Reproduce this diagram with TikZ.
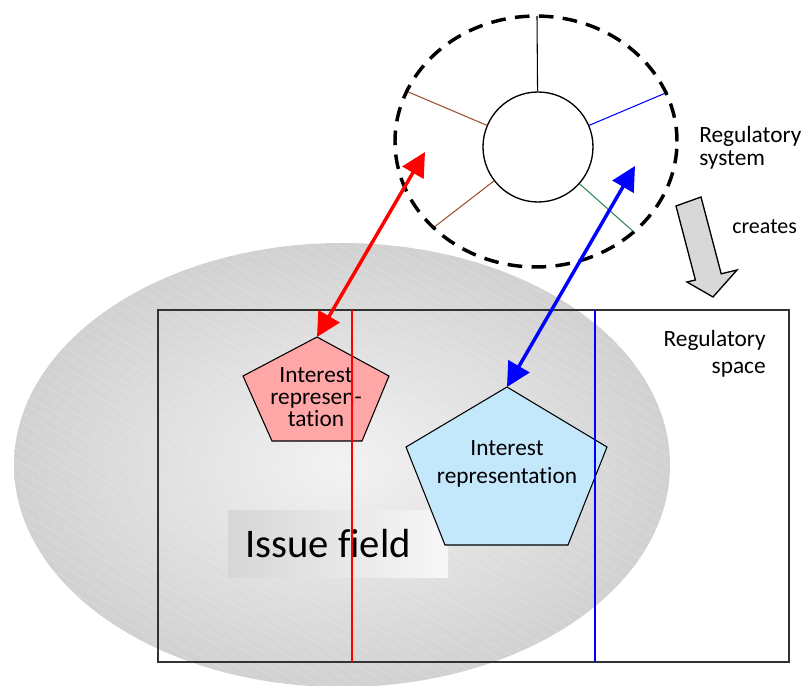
\documentclass[tikz,border=0pt]{standalone}
\usepackage{fontspec}
\setmainfont{Carlito}[Ligatures=NoCommon]
\usetikzlibrary{arrows.meta}
\definecolor{spokebrown}{RGB}{160,82,45}
\definecolor{spokegreen}{RGB}{46,139,87}
\definecolor{pinkfill}{RGB}{255,166,166}
\definecolor{bluefill}{RGB}{196,232,251}
\definecolor{framegray}{RGB}{50,50,50}
\definecolor{bigarrowfill}{RGB}{216,216,216}
\begin{document}
\begin{tikzpicture}[x=0.75pt,y=-0.75pt,
  spoke/.style={line width=0.8pt},
  pent/.style={draw=black, line width=0.8pt},
  pentext/.style={align=center, inner sep=0pt},
  label/.style={inner sep=0pt},
  dbl/.style={{Triangle[length=18pt,width=18pt]}-{Triangle[length=18pt,width=18pt]}, line width=2.6pt},
  vline/.style={line width=0.9pt}
]
\useasboundingbox (0,0) rectangle (808,686);

% issue field ellipse
\shade[inner color=gray!10, outer color=gray!36] (342,465) ellipse [x radius=246pt, y radius=166.5pt];
\begin{scope}
  \clip (342,465) ellipse [x radius=246pt, y radius=166.5pt];
  \foreach \b in {-160,-150,...,700}
    \draw[white, opacity=0.28, line width=0.35pt] (0,\b) -- (700,{\b+404});
\end{scope}

% regulatory space frame
\draw[framegray, line width=1.1pt] (158,310) rectangle (789,662);

% issue field label box
\shade[left color=gray!32, right color=gray!6] (228,510) rectangle (448,577);
\node[label, anchor=base west, font=\fontsize{30.5}{34}\selectfont] (issue) at (245,557) {Issue field};

% pentagons
\filldraw[pent, fill=pinkfill] (317,337) coordinate (rtop) -- (389,376) -- (362,441) -- (272,441) -- (243,376) -- cycle;
\node[pentext, font=\fontsize{17.5}{16.5}\selectfont] (rtext) at (316,397) {Interest\\represen-\\tation};
\filldraw[pent, fill=bluefill] (507,387) coordinate (btop) -- (607,447) -- (568,545) -- (445,545) -- (406,447) -- cycle;
\node[pentext, font=\fontsize{17.5}{21}\selectfont] (btext) at (507,464) {Interest\\representation};

% vertical lines
\draw[vline, red] (352,310) -- (352,662);
\draw[vline, blue] (595,310) -- (595,662);

% regulatory system
\node[circle, draw=black, line width=1pt, minimum size=82.5pt, inner sep=0pt] (hub) at (538,147) {};
\coordinate (o1) at (537,16);
\coordinate (o2) at (406,91);
\coordinate (o3) at (433,228);
\coordinate (o4) at (668,92);
\coordinate (o5) at (635,233);
\draw[spoke, black] (hub) -- (o1);
\draw[spoke, spokebrown] (hub) -- (o2);
\draw[spoke, spokebrown] (hub) -- (o3);
\draw[spoke, blue] (hub) -- (o4);
\draw[spoke, spokegreen] (hub) -- (o5);
\draw[line width=2.6pt, dash pattern=on 11pt off 7pt] (536,141.5) ellipse [x radius=105.75pt, y radius=94.1pt];

\node[label, anchor=west, align=left, font=\fontsize{17.5}{17}\selectfont] (regsys) at (699,148) {Regulatory\\system};

% creates arrow
\filldraw[fill=bigarrowfill, draw=black, line width=1pt]
  (676,206) -- (701,197) -- (721.2,273.8) -- (737,270) -- (713,297) -- (687,282) -- (695.4,280) -- cycle;
\node[label, anchor=base west, font=\fontsize{16.5}{18}\selectfont] (creates) at (732,233) {creates};

\node[label, anchor=east, align=right, font=\fontsize{17.5}{20}\selectfont] (regspace) at (766,354) {Regulatory\\space};

% double arrows
\coordinate (rsys) at (425,152);
\coordinate (bsys) at (635,166);
\draw[dbl, red] (rsys) -- (rtop);
\draw[dbl, blue] (bsys) -- (btop);
\end{tikzpicture}
\end{document}
